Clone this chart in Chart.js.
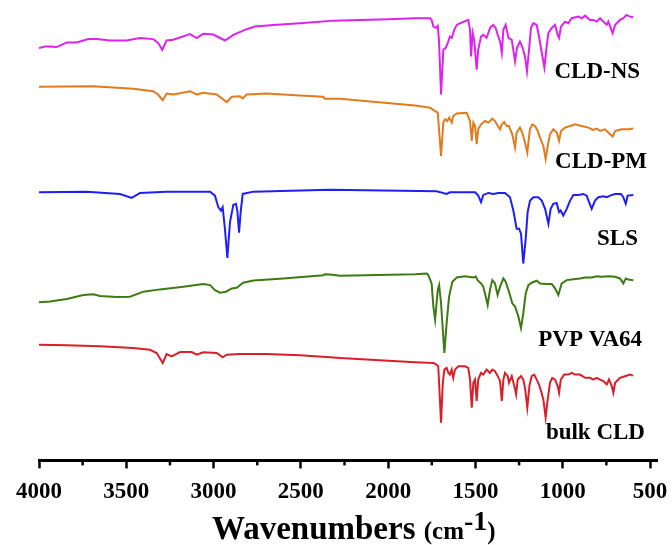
<!DOCTYPE html>
<html>
<head>
<meta charset="utf-8">
<script src="https://cdn.jsdelivr.net/npm/chart.js@4/dist/chart.umd.min.js"></script>
<style>
  html, body { margin: 0; padding: 0; background: #fff; }
  #wrap { position: relative; width: 672px; height: 545px; }
  #xtitle {
    position: absolute; left: 212px; top: 504px; white-space: nowrap;
    font-family: "Liberation Serif", "Times New Roman", serif; font-weight: bold;
    font-size: 33px; line-height: 33px; color: #000;
  }
  #xtitle .unit { font-size: 25px; }
  #xtitle sup { font-size: 28px; vertical-align: 9px; }
</style>
</head>
<body>
<div id="wrap">
  <canvas id="ftir" width="672" height="545"></canvas>
  <div id="xtitle">Wavenumbers <span class="unit">(cm<sup>-1</sup>)</span></div>
</div>
<script>
// ===== DATA (wavenumber cm-1, transmittance a.u., stacked) =====
const seriesNames = ['CLD-NS', 'CLD-PM', 'SLS', 'PVP VA64', 'bulk CLD'];
const seriesColors = ['#dd22ee', '#e07b1f', '#1f1ff5', '#3d7a12', '#d9202a'];
const majorTicks = [4000, 3500, 3000, 2500, 2000, 1500, 1000, 500];
const minorTicks = [3750, 3250, 2750, 2250, 1750, 1250, 750];

const cldNS = [
  [4000, 414.7], [3966, 416.3], [3937, 416.3], [3899, 415.7], [3841, 420.3], [3784, 420.3],
  [3718, 423.7], [3670, 423.7], [3593, 422.3], [3498, 422.3], [3421, 424.7], [3345, 423.7],
  [3317, 419.7], [3294, 413], [3269, 422.3], [3231, 423], [3135, 428.7], [3097, 424.7],
  [3059, 429], [3002, 428.3], [2934, 422.3], [2887, 428], [2810, 433.7], [2763, 436.3],
  [2658, 438], [2505, 439.7], [2314, 442.3], [2000, 443.7], [1846, 444.7], [1760, 444.7],
  [1751, 443], [1741, 436.3], [1727, 435], [1716, 437], [1709, 423], [1697, 368],
  [1684, 413], [1670, 415], [1659, 419.7], [1646, 426.3], [1636, 425], [1621, 433],
  [1607, 438], [1588, 439.7], [1541, 443], [1531, 433], [1525, 406.3], [1516, 430],
  [1507, 423], [1493, 393], [1484, 413], [1468, 426.3], [1455, 428], [1436, 425],
  [1416, 435], [1398, 438], [1384, 435], [1372, 428], [1359, 421.3], [1349, 410],
  [1340, 433], [1327, 438], [1311, 425], [1292, 423], [1273, 401.3], [1262, 415],
  [1245, 421.3], [1232, 416.3], [1216, 406.3], [1205, 391.3], [1193, 413], [1182, 435],
  [1168, 439.7], [1149, 438], [1136, 426.3], [1120, 410], [1105, 395], [1092, 416.3],
  [1082, 430], [1063, 435], [1044, 438], [1029, 428], [1021, 425], [1010, 436.3],
  [987, 441.3], [968, 439.7], [949, 444.7], [910, 446.3], [891, 444.7], [872, 447.3],
  [844, 443], [825, 443], [805, 441.3], [786, 444.7], [767, 441.3], [748, 438],
  [739, 441.3], [714, 429.7], [700, 438], [672, 443], [653, 444.7], [634, 448],
  [615, 446.3], [596, 445.7]
];

const cldPM = [
  [4000, 375.7], [3691, 376.3], [3461, 373.7], [3346, 371.3], [3318, 368], [3291, 362.3],
  [3269, 369], [3231, 368], [3135, 371.3], [3097, 368], [3059, 369.7], [2982, 368],
  [2925, 360.3], [2896, 365.7], [2849, 366.3], [2833, 364], [2810, 368], [2696, 369],
  [2505, 367], [2373, 365.7], [2362, 363.7], [2276, 363.7], [1846, 357], [1760, 354.7],
  [1731, 351.3], [1716, 349.7], [1697, 306.3], [1684, 339.7], [1674, 343], [1661, 341.3],
  [1650, 344.7], [1636, 339.7], [1627, 346.3], [1607, 349], [1550, 349.7], [1531, 341.3],
  [1521, 321.3], [1512, 339.7], [1502, 336.3], [1493, 318], [1484, 333], [1468, 338],
  [1445, 341.3], [1426, 339.7], [1403, 343.7], [1388, 341.3], [1372, 336.3], [1359, 333],
  [1349, 338], [1335, 340.3], [1321, 336.3], [1308, 336.3], [1289, 328], [1273, 314.7],
  [1264, 329.7], [1245, 334.7], [1232, 329.7], [1216, 319.7], [1203, 309.7], [1188, 333],
  [1174, 338], [1159, 336.3], [1143, 331.3], [1130, 324.7], [1111, 316.3], [1098, 303],
  [1086, 316.3], [1073, 328], [1054, 333], [1034, 329.7], [1021, 321.3], [1010, 331.3],
  [987, 334.7], [958, 336.3], [930, 338], [891, 336.3], [853, 334.7], [825, 332.3],
  [805, 333.7], [786, 331.3], [758, 333], [739, 329.7], [714, 325.7], [700, 331.3],
  [662, 333], [624, 333], [596, 333.7]
];

const sls = [
  [4000, 269.7], [3727, 270.3], [3536, 268], [3469, 264], [3421, 269], [3269, 270.3],
  [3020, 270.3], [2992, 266.3], [2973, 254.7], [2958, 251.3], [2948, 254.7], [2935, 233],
  [2921, 203.7], [2906, 239.7], [2887, 257], [2872, 258], [2864, 251.3], [2854, 229],
  [2845, 249.7], [2833, 268], [2772, 270.3], [2390, 272], [2333, 272.3], [1722, 270.7],
  [1665, 268], [1646, 269.7], [1502, 269.7], [1484, 266.3], [1468, 259.7], [1455, 267],
  [1426, 269], [1398, 268], [1369, 269], [1331, 269], [1302, 264.7], [1283, 251.3],
  [1264, 233], [1250, 233], [1239, 228], [1226, 198], [1212, 223], [1201, 249.7],
  [1187, 261.3], [1168, 264.7], [1140, 264.7], [1120, 261.3], [1101, 253], [1082, 238],
  [1069, 253], [1054, 258], [1035, 259], [1021, 249.7], [1012, 251.3], [997, 246.3],
  [977, 253], [958, 261.3], [939, 267], [911, 267], [882, 268], [863, 266.3],
  [849, 259.7], [834, 253], [815, 261.3], [796, 264.7], [767, 265.7], [748, 264.7],
  [729, 266.3], [700, 268], [666, 268], [653, 264.7], [639, 258], [628, 266.3],
  [596, 267]
];

const pvpVA64 = [
  [4000, 159], [3937, 159.7], [3841, 162.3], [3746, 166.3], [3689, 167], [3651, 165.3],
  [3555, 164.3], [3479, 164.7], [3402, 169.7], [3307, 172], [3173, 174.7], [3059, 177.3],
  [3020, 176.3], [2992, 171.3], [2963, 168.7], [2929, 169.7], [2896, 173], [2868, 173.7],
  [2830, 178.7], [2772, 181], [2600, 183], [2371, 186.3], [2362, 187.3], [2333, 187],
  [2276, 185.7], [1846, 187.3], [1779, 188], [1770, 186.3], [1751, 178], [1741, 154.7],
  [1731, 141.3], [1716, 171.3], [1708, 176.3], [1697, 158], [1678, 108], [1665, 138],
  [1651, 164.7], [1632, 179.7], [1607, 184], [1560, 185.3], [1512, 184], [1498, 185],
  [1488, 181.3], [1468, 178], [1455, 174.7], [1441, 164.7], [1430, 156.3], [1417, 171.3],
  [1403, 181.3], [1388, 178], [1373, 166.3], [1359, 174.7], [1340, 183], [1327, 179.7],
  [1308, 169.7], [1289, 158], [1273, 154.7], [1254, 144.7], [1239, 133], [1226, 148],
  [1212, 168], [1197, 176.3], [1178, 178.7], [1149, 180.7], [1130, 178], [1092, 177.3],
  [1063, 177.3], [1044, 173], [1025, 166.3], [1006, 178], [977, 181.3], [939, 182.3],
  [901, 183], [872, 184], [834, 184], [805, 185.3], [777, 184.7], [739, 185.3],
  [700, 184.7], [672, 183], [653, 178], [639, 183], [624, 182], [596, 181.3]
];

const bulkCLD = [
  [4000, 116.3], [3841, 115.7], [3651, 114.7], [3460, 113], [3364, 111.3], [3326, 108],
  [3291, 98], [3269, 107], [3240, 104.7], [3192, 109], [3125, 109], [3097, 106.3],
  [3059, 108.7], [2982, 108], [2948, 103.7], [2925, 106.3], [2849, 107], [2696, 107],
  [2505, 105.7], [2333, 103.7], [2276, 103], [1846, 98.7], [1741, 98], [1731, 97.3],
  [1713, 94.7], [1697, 38], [1687, 78], [1678, 91.3], [1665, 93], [1655, 88],
  [1646, 86.3], [1636, 91.3], [1627, 83], [1617, 91.3], [1598, 94.7], [1560, 94.7],
  [1541, 93], [1531, 81.3], [1521, 53], [1512, 78], [1502, 81.3], [1493, 59.7],
  [1484, 81.3], [1468, 88], [1455, 86.3], [1436, 91.3], [1417, 88], [1403, 91.3],
  [1388, 89.7], [1372, 84.7], [1359, 79.7], [1349, 59.7], [1340, 81.3], [1331, 88],
  [1315, 84.7], [1308, 78], [1292, 84.7], [1277, 74.7], [1267, 66.3], [1258, 81.3],
  [1239, 84.7], [1226, 81.3], [1216, 73], [1203, 53], [1191, 74.7], [1178, 84.7],
  [1163, 86.3], [1149, 81.3], [1136, 76.3], [1124, 69.7], [1111, 61.3], [1098, 43],
  [1086, 61.3], [1073, 78], [1060, 83], [1044, 81.3], [1029, 74.7], [1021, 68],
  [1011, 81.3], [992, 86.3], [968, 86.3], [949, 88], [930, 86.3], [901, 86.3],
  [872, 83], [844, 83], [825, 81.3], [805, 83], [786, 81.3], [767, 79.7],
  [748, 76.3], [735, 81.3], [719, 74.7], [710, 68], [700, 78], [672, 83],
  [643, 84.7], [615, 86.3], [596, 85.3]
];

const allSeries = [cldNS, cldPM, sls, pvpVA64, bulkCLD];

// ===== PLUGINS =====
const serif = '"Liberation Serif", "Times New Roman", serif';

// short minor ticks between the labelled ones
const minorTickPlugin = {
  id: 'minorTicks',
  afterDraw(chart) {
    const sx = chart.scales.x;
    const c = chart.ctx;
    c.save();
    c.strokeStyle = '#000';
    c.lineWidth = 2.5;
    minorTicks.forEach(v => {
      const px = sx.getPixelForValue(v);
      c.beginPath();
      c.moveTo(px, sx.top);
      c.lineTo(px, sx.top + 5);
      c.stroke();
    });
    c.restore();
  }
};

// sample names at the right of each trace
const labelAnchors = [[557, 391], [517, 300], [569, 223], [546, 121], [529, 27]];
const seriesLabelPlugin = {
  id: 'seriesLabels',
  afterDatasetsDraw(chart) {
    const c = chart.ctx;
    const sx = chart.scales.x, sy = chart.scales.y;
    c.save();
    c.fillStyle = '#000';
    c.font = 'bold 23px ' + serif;
    c.textAlign = 'right';
    c.textBaseline = 'middle';
    seriesNames.forEach((name, i) => {
      const a = labelAnchors[i];
      c.fillText(name, sx.getPixelForValue(a[0]), sy.getPixelForValue(a[1]));
    });
    c.restore();
  }
};

// ===== CHART =====
new Chart(document.getElementById('ftir'), {
  type: 'line',
  data: {
    datasets: allSeries.map((s, i) => ({
      label: seriesNames[i],
      data: s.map(p => ({ x: p[0], y: p[1] })),
      borderColor: seriesColors[i],
      borderWidth: 2,
      pointRadius: 0,
      tension: 0,
      fill: false
    }))
  },
  options: {
    responsive: false,
    animation: false,
    layout: { padding: { left: 39, right: 15, top: 8, bottom: 29 } },
    plugins: { legend: { display: false }, tooltip: { enabled: false } },
    scales: {
      x: {
        type: 'linear',
        reverse: true,
        min: 460,
        max: 4000,
        afterBuildTicks: s => { s.ticks = majorTicks.map(v => ({ value: v })); },
        afterFit: s => { s.paddingLeft = 0; s.paddingRight = 0; },
        grid: { display: true, drawOnChartArea: false, drawTicks: true, tickLength: 8, tickWidth: 2.5, tickColor: '#000' },
        border: { display: true, color: '#000', width: 3 },
        ticks: {
          color: '#000', padding: 10, maxRotation: 0, autoSkip: false,
          font: { family: serif, weight: 'bold', size: 23 },
          callback: v => String(v)
        }
      },
      y: { display: false, min: 0, max: 455 }
    }
  },
  plugins: [minorTickPlugin, seriesLabelPlugin]
});
</script>
</body>
</html>
